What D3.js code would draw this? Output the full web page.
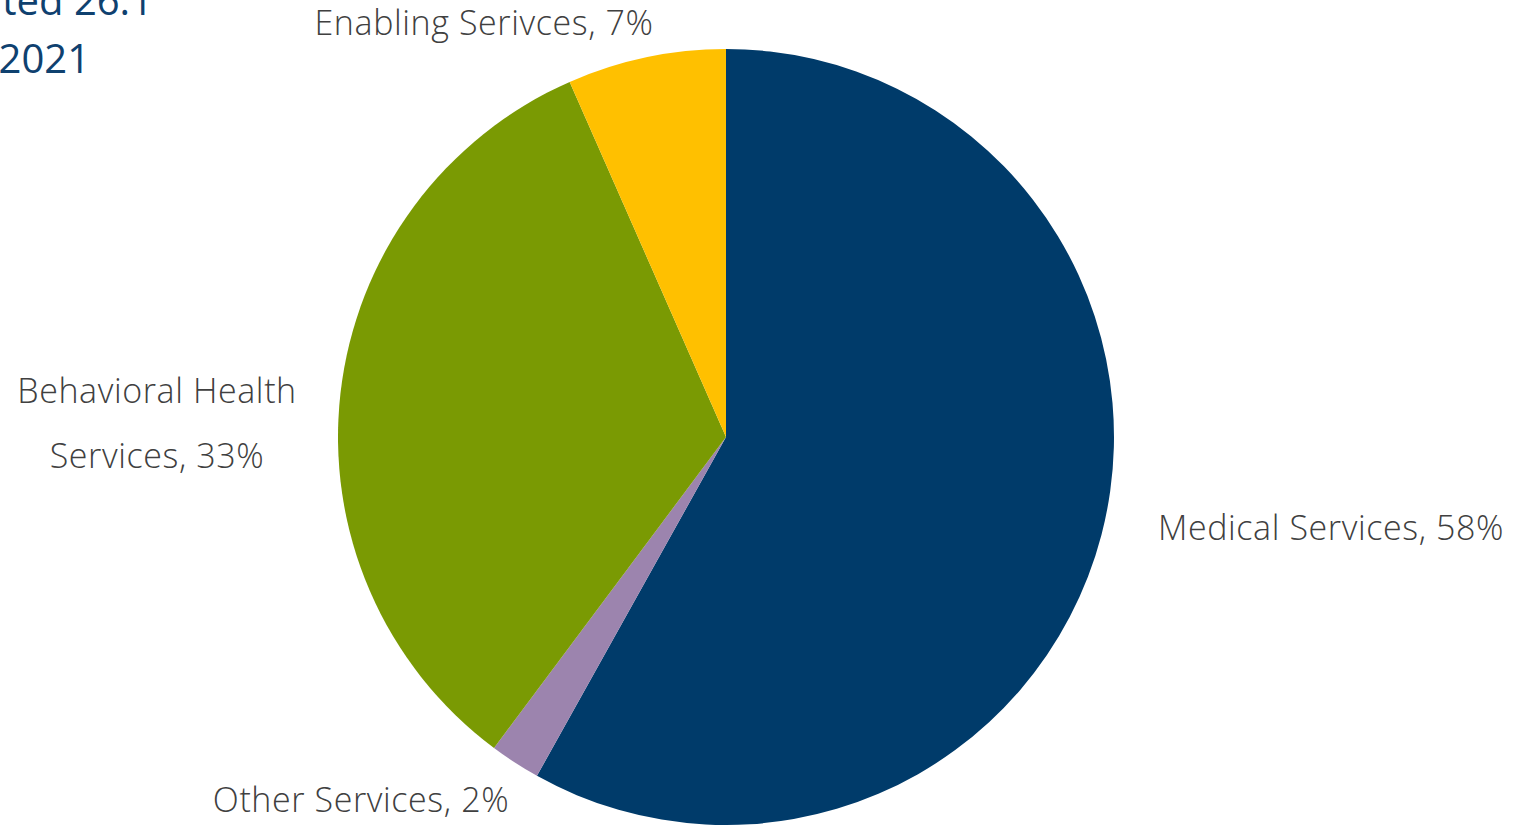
<!DOCTYPE html>
<html>
<head>
<meta charset="utf-8">
<script src="https://cdn.jsdelivr.net/npm/d3@7"></script>
<style>
  html, body { margin: 0; padding: 0; background: #fff; overflow: hidden; }
  svg { display: block; }
</style>
</head>
<body>
<script>
// Data
const categories = ["Medical Services", "Other Services", "Behavioral Health Services", "Enabling Serivces"];
const values = [58.1, 2.1, 33.2, 6.6];
const valueLabels = ["58%", "2%", "33%", "7%"];
const colors = ["#003B6A", "#9C84AE", "#7A9A03", "#FFC000"];
const titleLines = ["ted 26.1", "2021"];

const W = 1514, H = 825;
const cx = 726, cy = 437, R = 388;

const svg = d3.select("body").append("svg").attr("width", W).attr("height", H);

const data = categories.map((c, i) => ({ name: c, value: values[i], label: valueLabels[i], color: colors[i] }));

const pie = d3.pie().sort(null).value(d => d.value).startAngle(0).endAngle(2 * Math.PI);
const arc = d3.arc().innerRadius(0).outerRadius(R);

const g = svg.append("g").attr("transform", `translate(${cx},${cy})`);
g.selectAll("path").data(pie(data)).join("path")
  .attr("d", arc)
  .attr("fill", d => d.data.color);

// Title (partially cropped in reference)
const title = svg.append("g")
  .attr("font-family", "'Open Sans', 'Noto Sans', sans-serif")
  .attr("font-size", 40)
  .attr("fill", "#0F416F");
title.append("text").attr("x", 153).attr("y", 15).attr("text-anchor", "end").text(titleLines[0]);
title.append("text").attr("x", 90).attr("y", 73).attr("text-anchor", "end").text(titleLines[1]);

// Data labels (positions relative to pie center, as placed in reference)
const labelPos = [
  { dx: 605, dy: 103, lines: [categories[0] + ", " + valueLabels[0]] },
  { dx: -365, dy: 375, lines: [categories[1] + ", " + valueLabels[1]] },
  { dx: -569, dy: -34, lines: ["Behavioral Health", "Services, " + valueLabels[2]] },
  { dx: -242, dy: -402, lines: [categories[3] + ", " + valueLabels[3]] }
];
const lg = svg.append("g")
  .attr("font-family", "'Open Sans', 'Noto Sans', sans-serif")
  .attr("font-size", 34)
  .attr("font-weight", 300)
  .attr("letter-spacing", 0.6)
  .attr("fill", "#404040")
  .attr("text-anchor", "middle");
labelPos.forEach(p => {
  const t = lg.append("text").attr("x", cx + p.dx).attr("y", cy + p.dy);
  p.lines.forEach((ln, i) => {
    t.append("tspan").attr("x", cx + p.dx).attr("dy", i === 0 ? 0 : 65).text(ln);
  });
});
</script>
</body>
</html>
